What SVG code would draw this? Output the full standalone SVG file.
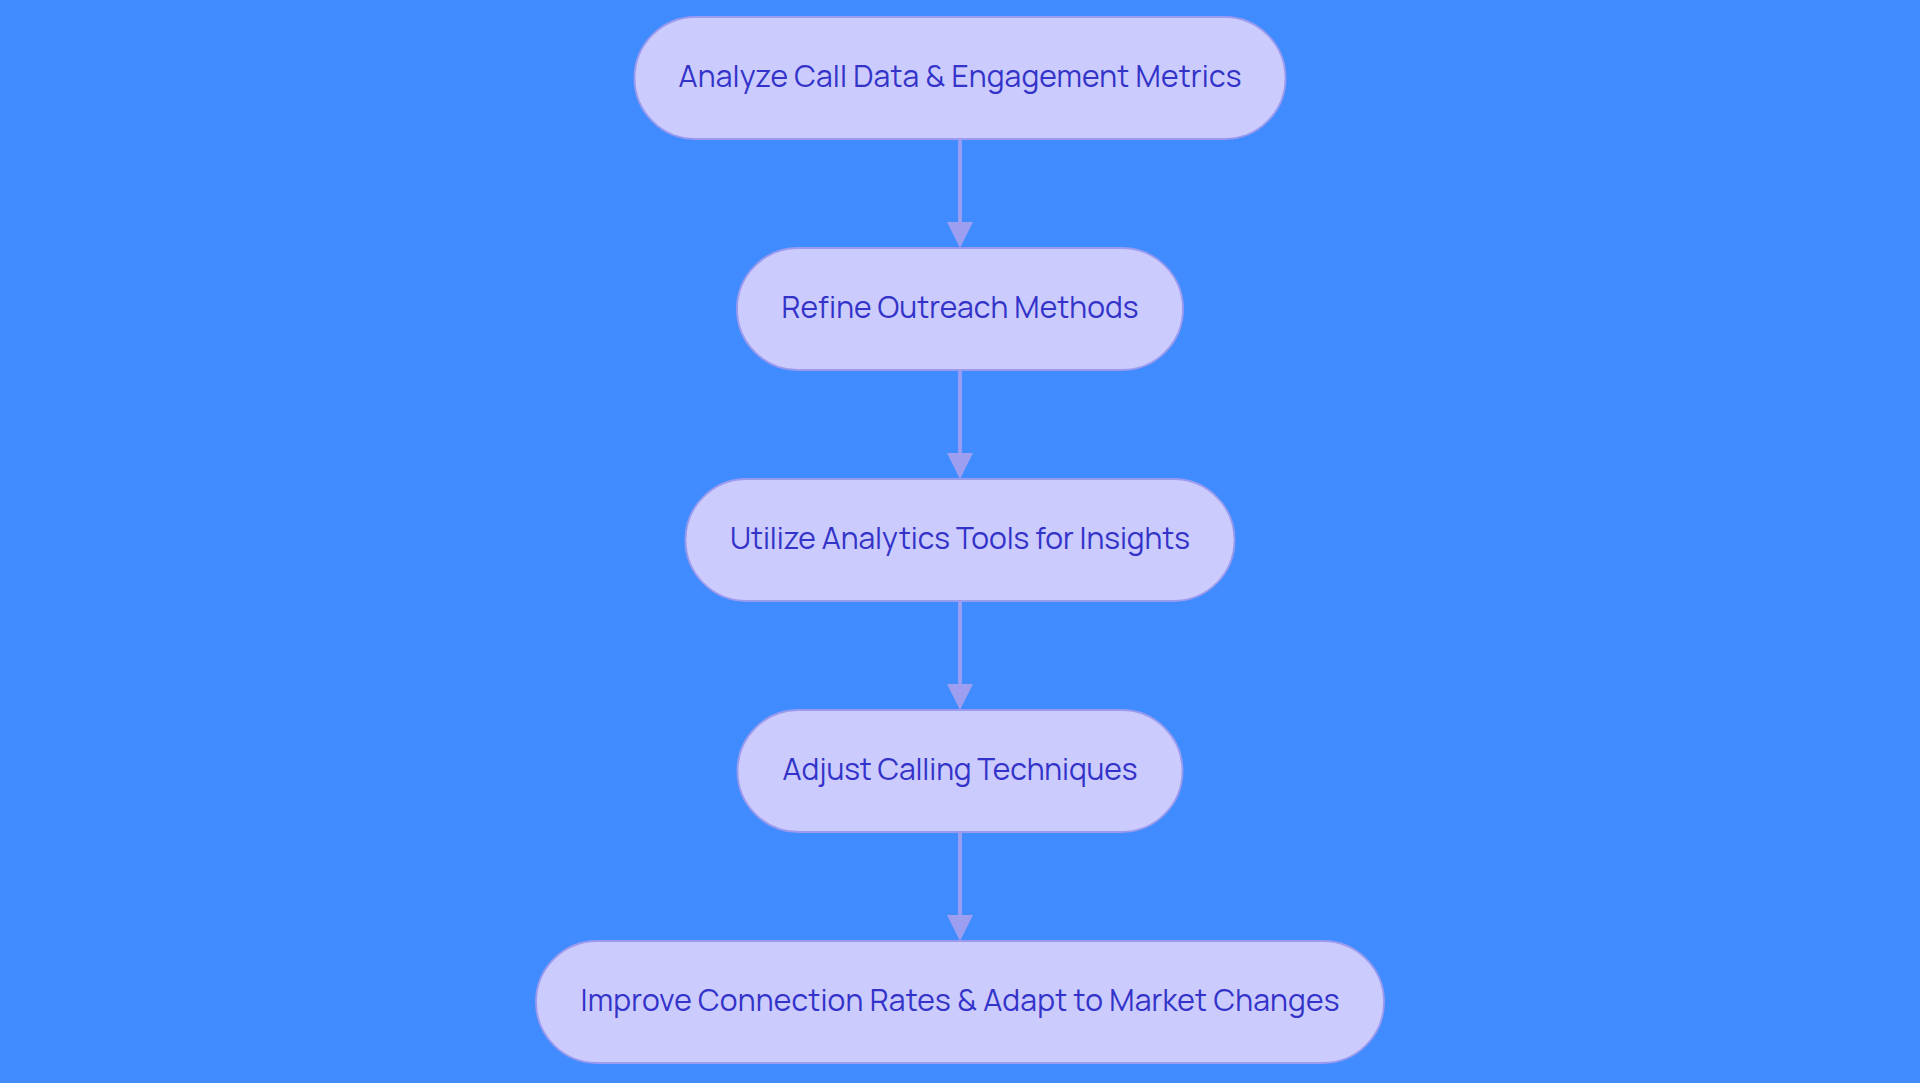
<svg xmlns="http://www.w3.org/2000/svg" width="1920" height="1083" viewBox="0 0 1920 1083">
<style>
.node rect{fill:#CBCBFD;stroke:#9A9AEE;stroke-width:1.9}
.node text{font-family:Manrope,Inter,"Liberation Sans",sans-serif;font-size:30px;font-weight:400;fill:#3333C9;text-anchor:middle}
.edge{stroke:#9E9EF0;stroke-width:3.8;fill:none}
</style>
<defs>
<marker id="arr" markerUnits="userSpaceOnUse" markerWidth="26" markerHeight="26" refX="0" refY="13" orient="auto" viewBox="0 0 26 26">
<path d="M0,0 L26,13 L0,26 z" fill="#9E9EF0"/>
</marker>
</defs>
<rect x="0" y="0" width="1920" height="1083" fill="#408CFF"/>
<g id="connectors">
<line class="edge" x1="960" y1="139" x2="960" y2="222" marker-end="url(#arr)"/>
<line class="edge" x1="960" y1="370" x2="960" y2="453" marker-end="url(#arr)"/>
<line class="edge" x1="960" y1="601" x2="960" y2="684" marker-end="url(#arr)"/>
<line class="edge" x1="960" y1="832" x2="960" y2="915" marker-end="url(#arr)"/>
</g>
<g id="n1" class="node">
<rect x="634.5" y="17" width="651" height="122" rx="61" ry="61"/>
<text x="960" y="87" textLength="563">Analyze Call Data &amp; Engagement Metrics</text>
</g>
<g id="n2" class="node">
<rect x="737" y="248" width="446" height="122" rx="61" ry="61"/>
<text x="960" y="318" textLength="357">Refine Outreach Methods</text>
</g>
<g id="n3" class="node">
<rect x="685.5" y="479" width="549" height="122" rx="61" ry="61"/>
<text x="960" y="549" textLength="460">Utilize Analytics Tools for Insights</text>
</g>
<g id="n4" class="node">
<rect x="737.5" y="710" width="445" height="122" rx="61" ry="61"/>
<text x="960" y="780" textLength="355">Adjust Calling Techniques</text>
</g>
<g id="n5" class="node">
<rect x="536" y="941" width="848" height="122" rx="61" ry="61"/>
<text x="960" y="1011" textLength="759">Improve Connection Rates &amp; Adapt to Market Changes</text>
</g>
</svg>
